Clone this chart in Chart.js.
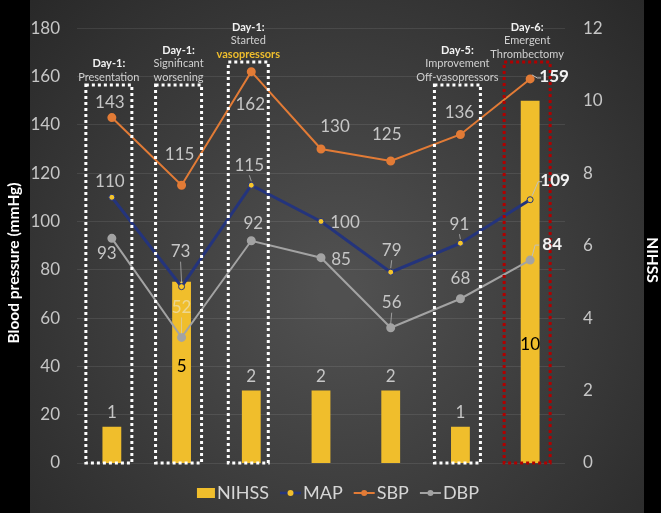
<!DOCTYPE html>
<html>
<head>
<meta charset="utf-8">
<script src="https://cdn.jsdelivr.net/npm/chart.js@4"></script>
<style>
  html, body { margin: 0; padding: 0; background: #000; }
  #wrap { width: 661px; height: 513px; }
</style>
</head>
<body>
<div id="wrap"><canvas id="bpChart" width="661" height="513"></canvas></div>
<script>
// time points (x axis is not labelled in the figure)
const timepoints = ['Day-1 presentation', 'Day-1 worsening', 'Day-1 vasopressors', 'Day-2', 'Day-3', 'Day-5', 'Day-6'];
const nihss = [1, 5, 2, 2, 2, 1, 10];
const sbp = [143, 115, 162, 130, 125, 136, 159];
const map = [110, 73, 115, 100, 79, 91, 109];
const dbp = [93, 52, 92, 85, 56, 68, 84];

// annotation boxes (index of time point, top in mmHg, caption lines)
const boxAt = [0, 1, 2, 5, 6];
const boxTop = [156.5, 156.5, 166, 156.5, 166];
const boxHead = ['Day-1:', 'Day-1:', 'Day-1:', 'Day-5:', 'Day-6:'];
const boxText = [
  ['Presentation'],
  ['Significant', 'worsening'],
  ['Started', 'vasopressors'],
  ['Improvement', 'Off-vasopressors'],
  ['Emergent', 'Thrombectomy'],
];

// label placement offsets (px) from each point
const sbpOff = [[-2, -15], [-2, -31], [-1, 33], [14, -22], [-4, -27], [-1, -22], [24, -2]];
const mapOff = [[-2, -16], [-1, -35], [-2, -20], [24, 1], [1, -22], [-1, -19], [25, -19]];
const dbpOff = [[-5, 15], [0, -30], [2, -17], [20, 2], [1, -25], [0, -20], [22, -16]];
const nihssOff = [-14, 85, -14, -14, -14, -14, 244];
// short leader lines from label to point
const mapLeader = [false, true, true, false, true, true, false];
const dbpLeader = [false, true, false, false, true, false, false];

const FONT = 'Lato';
const YELLOW = '#f0be2c';
const NAVY = '#24347c';
const ORANGE = '#e27b36';
const GREY = '#a3a3a3';

const backdrop = {
  id: 'backdrop',
  beforeDraw(chart) {
    const c = chart.ctx;
    const w = chart.width, h = chart.height;
    c.save();
    c.fillStyle = '#000';
    c.fillRect(0, 0, w, h);
    const g = c.createRadialGradient(340, 290, 20, 340, 290, 440);
    g.addColorStop(0, '#505050');
    g.addColorStop(1, '#272727');
    c.fillStyle = g;
    c.fillRect(30, 0, 614, h);
    c.restore();
  },
};

const extras = {
  id: 'extras',
  afterDatasetsDraw(chart) {
    const c = chart.ctx;
    const xs = chart.scales.x;
    const ys = chart.scales.y;
    const bottom = chart.chartArea.bottom;
    c.save();

    // dotted boxes + captions
    boxAt.forEach((idx, k) => {
      const cx = xs.getPixelForValue(idx) - 3;
      const half = k === 2 ? 20 : 23;
      const top = ys.getPixelForValue(boxTop[k]);
      c.strokeStyle = k === 4 ? '#b00000' : '#ffffff';
      c.lineWidth = 3;
      c.setLineDash([3, 3]);
      c.strokeRect(cx - half, top, half * 2, bottom - top);
      c.setLineDash([]);

      const lines = [boxHead[k]].concat(boxText[k]);
      c.textAlign = 'center';
      c.textBaseline = 'middle';
      lines.forEach((t, n) => {
        const y = top - 8 - (lines.length - 1 - n) * 13.3;
        if (n === 0) {
          c.font = `bold 11px ${FONT}`;
          c.fillStyle = '#f2f2f2';
        } else if (t === 'vasopressors') {
          c.font = `bold 11px ${FONT}`;
          c.fillStyle = YELLOW;
        } else {
          c.font = `11px ${FONT}`;
          c.fillStyle = '#d0d0d0';
        }
        c.fillText(t, cx, y);
      });
    });

    // data labels for the lines
    const lineSets = [[1, sbp, sbpOff, null], [0, map, mapOff, mapLeader], [2, dbp, dbpOff, dbpLeader]];
    lineSets.forEach(([di, vals, off, leader]) => {
      const meta = chart.getDatasetMeta(di);
      meta.data.forEach((pt, j) => {
        const last = j === vals.length - 1;
        const x = pt.x + off[j][0];
        const y = pt.y + off[j][1];
        c.textAlign = 'center';
        c.textBaseline = 'middle';
        if (leader && leader[j]) {
          c.strokeStyle = 'rgba(210,210,210,0.6)';
          c.lineWidth = 1;
          c.beginPath();
          c.moveTo(x, y + 10);
          c.lineTo(pt.x, pt.y - 4);
          c.stroke();
        }
        if (last) {
          c.font = `bold 17px ${FONT}`;
          c.fillStyle = '#f2f2f2';
          c.strokeStyle = '#bfbfbf';
          c.lineWidth = 1;
          c.beginPath();
          c.moveTo(x - 13, y + 1);
          c.lineTo(x - 17, y + 1);
          c.lineTo(pt.x + 2, pt.y - 4);
          c.stroke();
        } else {
          c.font = `17px ${FONT}`;
          c.fillStyle = (di === 2 && j === 1) ? 'rgba(235,235,225,0.55)' : '#c6c6c6';
        }
        c.fillText(String(vals[j]), x, y);
      });
    });

    // NIHSS labels
    const bars = chart.getDatasetMeta(3);
    bars.data.forEach((b, j) => {
      const inside = nihssOff[j] > 0;
      c.font = `17px ${FONT}`;
      c.fillStyle = inside ? '#000000' : '#c6c6c6';
      c.textAlign = 'center';
      c.textBaseline = 'middle';
      c.fillText(String(nihss[j]), b.x, b.y + nihssOff[j]);
    });

    c.restore();
  },
  afterDraw(chart) {
    const c = chart.ctx;
    c.save();
    // axis titles
    c.fillStyle = '#ffffff';
    c.font = `bold 15.5px ${FONT}`;
    c.textAlign = 'center';
    c.textBaseline = 'middle';
    c.translate(14, 263);
    c.rotate(-Math.PI / 2);
    c.fillText('Blood pressure (mmHg)', 0, 0);
    c.restore();

    c.save();
    c.fillStyle = '#ffffff';
    c.font = `bold 15.5px ${FONT}`;
    c.textAlign = 'center';
    c.textBaseline = 'middle';
    c.translate(652, 260);
    c.rotate(Math.PI / 2);
    c.fillText('NIHSS', 0, 0);
    c.restore();

    // legend
    c.save();
    c.font = `18px ${FONT}`;
    c.textBaseline = 'middle';
    c.textAlign = 'left';
    const items = [
      { label: 'NIHSS', kind: 'box', color: YELLOW },
      { label: 'MAP', kind: 'line', color: NAVY, dot: YELLOW },
      { label: 'SBP', kind: 'line', color: ORANGE, dot: ORANGE },
      { label: 'DBP', kind: 'line', color: GREY, dot: GREY },
    ];
    const symW = [18, 21, 21, 21];
    let total = 0;
    items.forEach((it, i) => {
      total += symW[i] + 2 + c.measureText(it.label).width + (i < items.length - 1 ? 11 : 0);
    });
    let x = 338 - total / 2;
    const y = 493;
    items.forEach((it, i) => {
      if (it.kind === 'box') {
        c.fillStyle = it.color;
        c.fillRect(x, y - 5, 18, 10);
      } else {
        c.strokeStyle = it.color;
        c.lineWidth = it.label === 'MAP' ? 2.5 : 2;
        c.beginPath();
        c.moveTo(x, y);
        c.lineTo(x + symW[i], y);
        c.stroke();
        c.fillStyle = it.dot;
        c.beginPath();
        c.arc(x + symW[i] / 2, y, 3, 0, Math.PI * 2);
        c.fill();
      }
      x += symW[i] + 2;
      c.fillStyle = '#d6d6d6';
      c.fillText(it.label, x, y);
      x += c.measureText(it.label).width + 11;
    });
    c.restore();
  },
};

new Chart(document.getElementById('bpChart'), {
  type: 'bar',
  data: {
    labels: timepoints,
    datasets: [
      {
        type: 'line',
        label: 'MAP',
        data: map,
        yAxisID: 'y',
        borderColor: NAVY,
        borderWidth: 3,
        pointRadius: 3,
        pointBackgroundColor: '#f5c52a',
        pointBorderColor: NAVY,
        pointBorderWidth: 1,
        order: 2,
      },
      {
        type: 'line',
        label: 'SBP',
        data: sbp,
        yAxisID: 'y',
        borderColor: ORANGE,
        borderWidth: 2,
        pointRadius: 3.5,
        pointBackgroundColor: ORANGE,
        pointBorderColor: ORANGE,
        order: 1,
      },
      {
        type: 'line',
        label: 'DBP',
        data: dbp,
        yAxisID: 'y',
        borderColor: GREY,
        borderWidth: 2,
        pointRadius: 3.5,
        pointBackgroundColor: GREY,
        pointBorderColor: GREY,
        order: 3,
      },
      {
        type: 'bar',
        label: 'NIHSS',
        data: nihss,
        yAxisID: 'y1',
        backgroundColor: YELLOW,
        barPercentage: 0.27,
        categoryPercentage: 1,
        order: 10,
      },
    ],
  },
  options: {
    responsive: false,
    animation: false,
    layout: { padding: { top: 12, bottom: 50, left: 0, right: 0 } },
    plugins: {
      legend: { display: false },
      tooltip: { enabled: false },
    },
    scales: {
      x: { display: false },
      y: {
        position: 'left',
        min: 0,
        max: 180,
        ticks: { stepSize: 20, color: '#c6c6c6', font: { family: FONT, size: 17 }, padding: 17 },
        grid: { color: 'rgba(255,255,255,0.09)', drawTicks: false },
        border: { display: false },
        afterFit: (s) => { s.width = 77; },
      },
      y1: {
        position: 'right',
        min: 0,
        max: 12,
        ticks: { stepSize: 2, color: '#c6c6c6', font: { family: FONT, size: 17 }, padding: 18 },
        grid: { display: false, drawTicks: false },
        border: { display: false },
        afterFit: (s) => { s.width = 96; },
      },
    },
  },
  plugins: [backdrop, extras],
});
</script>
</body>
</html>
